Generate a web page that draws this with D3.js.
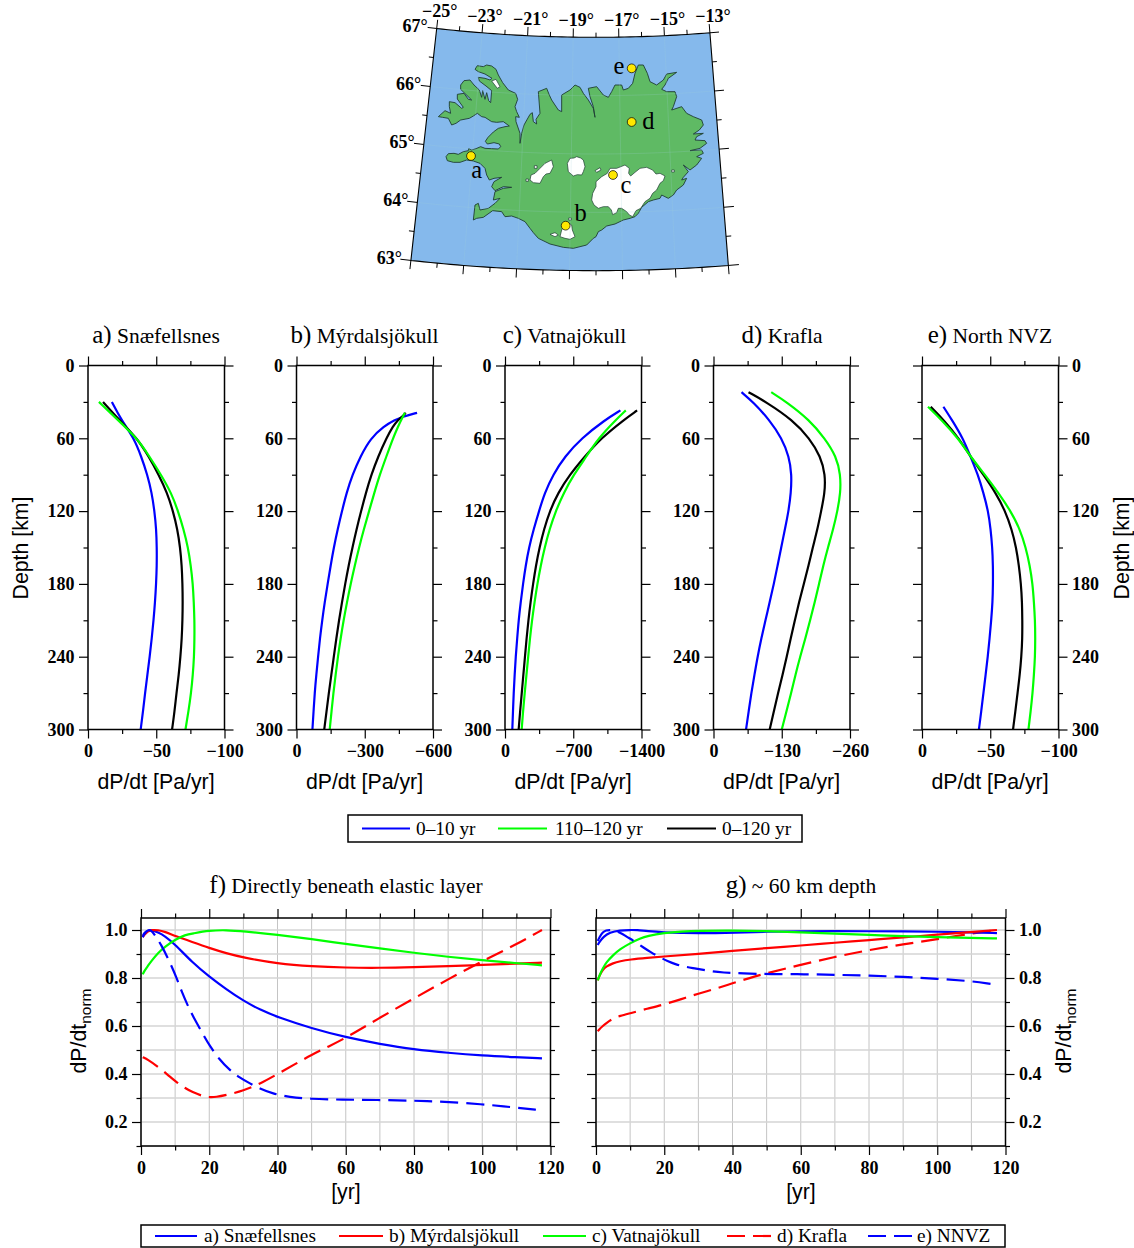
<!DOCTYPE html>
<html lang="en">
<head>
<meta charset="utf-8">
<script src="https://d3js.org/d3.v7.min.js"></script>
<style type="text/css">
body{
  margin: 0;
  background: white;
}
text{
  font-family: "Liberation Serif", serif;
  fill: black;
}
.tick text{
  font-family: "Liberation Serif", serif;
  font-weight: bold;
  font-size: 18px;
  fill: black;
}
.sans{
  font-family: "Liberation Sans", sans-serif;
  font-size: 21.3px;
}
</style>
</head>
<body>
<div id="chart"></div>
<script type="text/javascript">

// profile panels: depth [km] and dP/dt [Pa/yr]
var depthA = [30,45,60,75,90,105,120,135,150,165,180,195,210,225,240,255,270,285,300];
var aBlue  = [-17.5,-24.5,-33.7,-39,-43.5,-46.7,-48.7,-50,-50.4,-50.4,-49.9,-49.1,-48,-46.7,-45.2,-43.5,-41.8,-40.3,-38.6];
var aGreen = [-8,-22,-36,-45,-53.5,-61,-66,-70,-73.3,-75.3,-76.8,-77.5,-78,-78,-77.7,-76.8,-75.5,-73.6,-71.4];
var aBlack = [-11,-23,-36,-44.5,-51.8,-58,-62.3,-65.5,-67.5,-68.7,-69.2,-69.4,-69.2,-68.7,-67.7,-66.5,-64.8,-63.4,-61.6];

var depthB = [39,42,45,50,60,75,90,105,120,135,150,165,180,195,210,225,240,255,270,285,300];
var bBlue  = [-530,-470,-430,-385,-325,-281,-246,-220,-200,-181,-164,-150,-137,-124,-113,-103,-95,-87,-80,-75,-70];
var bGreen = [-476,-468,-460,-447,-424,-395,-366,-342,-319,-296,-275,-256,-238,-222,-207,-194,-182,-172,-162,-154,-146];
var bBlack = [-480,-465,-446,-424,-395,-359,-329,-305,-284,-264,-246,-229,-214,-200,-187,-175,-164,-153,-142,-132,-122];

var depthC = [37,45,60,75,90,105,120,135,150,165,180,195,210,225,240,255,270,285,300];
var cBlue  = [-1184,-1023,-784,-613,-493,-407,-349,-294,-246,-212,-185,-161,-140,-125,-110,-99,-89,-82,-75];
var cGreen = [-1239,-1135,-958,-835,-705,-602,-520,-457,-407,-366,-332,-303,-277,-256,-238,-220,-202,-185,-171];
var cBlack = [-1355,-1215,-985,-818,-664,-544,-459,-400,-354,-317,-288,-262,-240,-221,-205,-188,-172,-155,-140];

var depthD = [22,30,45,60,75,90,105,120,135,150,165,180,195,210,225,240,255,270,285,300];
var dBlue  = [-53.4,-75,-107,-130,-144,-149,-147.5,-143,-136,-129,-122,-115,-107,-99,-91,-84,-78,-72,-67,-62];
var dGreen = [-110,-139,-183,-212,-234,-242,-242,-236,-228,-218,-209,-201,-193,-184,-175,-165,-156,-148,-139,-130];
var dBlack = [-66.7,-100,-151,-183,-204,-213,-212,-205,-198,-189,-181,-172,-163,-155,-147,-139.5,-131.5,-123,-115,-107];

var depthE = [34,45,60,75,90,105,120,135,150,165,180,195,210,225,240,255,270,285,300];
var eBlue  = [-15.7,-22,-30,-35.5,-41,-45,-48.5,-50.3,-51.5,-52,-52,-51.7,-50.7,-49.5,-48.2,-46.6,-45,-43.4,-41.7];
var eGreen = [-4.4,-14.5,-26.5,-35.5,-46,-56,-65,-71.8,-76,-79,-81,-82,-82.8,-83,-82.8,-82,-81,-79.6,-78];
var eBlack = [-6.4,-16,-27,-35.5,-45,-54,-61,-65.7,-69,-71,-72.5,-73.3,-73.5,-73.5,-72.8,-71.6,-70,-68.4,-66.7];

var depthMajor = [0,60,120,180,240,300];
var depthMinor = [30,90,150,210,270];

// f) directly beneath elastic layer
var fTimeA = [0.5,1,2,3,5,7,10,15,20,25,30,35,40,50,60,70,80,90,100,110,117.5];
var fSnae  = [0.975,0.99,0.998,1,0.99,0.975,0.94,0.865,0.806,0.753,0.705,0.667,0.637,0.59,0.553,0.525,0.502,0.488,0.477,0.47,0.465];
var fTimeB = [0.5,1,2,3,5,7,10,15,20,25,30,40,50,60,70,80,90,100,110,117.5];
var fMyrd  = [0.97,0.98,0.995,1,1,0.993,0.975,0.95,0.925,0.903,0.885,0.86,0.848,0.843,0.842,0.845,0.849,0.855,0.86,0.864];
var fTimeC = [0.5,1,2,3,5,7,10,13,15,20,25,30,40,50,60,70,80,90,100,110,117.5];
var fVatn  = [0.815,0.83,0.85,0.87,0.905,0.93,0.96,0.98,0.985,0.998,1,0.995,0.98,0.962,0.942,0.923,0.905,0.888,0.874,0.862,0.853];
var fTimeD = [0.5,2,5,8,10,13,15,18,20,22,25,30,35,40,45,50,55,60,70,80,90,100,110,117.5];
var fKraf  = [0.47,0.46,0.43,0.395,0.37,0.34,0.325,0.308,0.303,0.304,0.312,0.33,0.36,0.4,0.44,0.48,0.515,0.55,0.635,0.715,0.795,0.87,0.94,1];
var fTimeE = [0.5,1,2,3,4,5.9,8.1,10.3,12,13.7,15.6,18.6,20,23,26,28.9,32,34.7,38.6,43.5,49.4,59,69,80,88.5,100,108,117];
var fNnvz  = [0.97,0.985,1,1,0.98,0.94,0.876,0.806,0.74,0.685,0.63,0.555,0.52,0.46,0.416,0.385,0.36,0.34,0.318,0.304,0.296,0.293,0.292,0.289,0.285,0.274,0.263,0.249];

// g) ~60 km depth
var gTimeA = [0.5,1,2.2,4,7,10,12,15,20,25,30,35,40,50,60,70,80,90,100,110,117.5];
var gSnae  = [0.9375,0.95,0.972,0.99,0.999,1,1,0.995,0.99,0.988,0.987,0.987,0.989,0.993,0.995,0.995,0.995,0.994,0.993,0.99,0.987];
var gTimeB = [0.5,1,2,3,5,7,10,15,20,30,40,50,60,70,80,90,100,110,117.5];
var gMyrd  = [0.79,0.81,0.835,0.848,0.862,0.87,0.877,0.884,0.89,0.9,0.913,0.925,0.935,0.947,0.958,0.97,0.98,0.992,1];
var gTimeC = [0.5,1,2,3,5,7,10,13,15,20,25,30,40,50,60,70,80,90,100,110,117.5];
var gVatn  = [0.79,0.81,0.84,0.865,0.895,0.92,0.945,0.965,0.975,0.988,0.994,0.997,0.998,0.996,0.99,0.985,0.98,0.974,0.97,0.967,0.965];
var gTimeD = [0.5,1,2,3,5,7,10,15,20,25,30,35,40,45,50,60,70,80,90,100,110,117.5];
var gKraf  = [0.578,0.587,0.6,0.612,0.632,0.642,0.653,0.672,0.69,0.712,0.735,0.755,0.778,0.8,0.82,0.855,0.888,0.917,0.94,0.962,0.985,1];
var gTimeE = [0.5,1,2,3,4,5,7,9,11.5,14,16,18.3,21,23.5,26,29,34,37,43,51,61,70.5,80,90,100,110,115,117.5];
var gNnvz  = [0.954,0.97,0.992,0.999,1,1,0.99,0.972,0.951,0.926,0.908,0.889,0.87,0.856,0.847,0.84,0.827,0.823,0.819,0.816,0.816,0.813,0.81,0.805,0.797,0.787,0.777,0.772];

var coastRing = [[228,470],[235,461],[252,460],[265,463],[280,455],[295,452],[296,446],[305,450],[318,446],[332,440],[345,445],[365,446],[385,447],[392,440],[388,432],[372,428],[352,432],[346,424],[354,412],[370,396],[385,385],[405,380],[418,378],[400,365],[380,367],[365,365],[345,352],[335,350],[322,340],[310,348],[298,355],[272,360],[258,370],[245,375],[235,355],[218,352],[205,350],[225,332],[242,340],[238,320],[238,305],[255,308],[275,325],[280,322],[262,297],[262,283],[282,280],[295,298],[305,300],[272,268],[272,255],[282,242],[300,240],[312,255],[328,270],[335,292],[338,272],[345,298],[350,278],[356,302],[362,308],[365,272],[348,258],[328,243],[325,232],[345,235],[360,240],[366,235],[345,222],[325,215],[315,208],[322,197],[340,200],[350,195],[365,198],[378,208],[385,225],[398,248],[415,270],[437,280],[443,298],[435,320],[440,335],[448,352],[437,350],[438,365],[450,400],[450,430],[455,400],[462,375],[480,343],[487,338],[490,365],[500,372],[498,358],[510,340],[505,275],[530,265],[538,285],[545,300],[565,330],[575,335],[575,285],[600,270],[615,255],[630,262],[640,280],[655,300],[670,325],[675,352],[670,320],[660,290],[655,265],[680,260],[700,285],[715,292],[725,275],[735,255],[755,255],[760,270],[775,265],[788,250],[795,220],[805,195],[820,195],[832,220],[840,245],[860,255],[880,240],[890,222],[920,217],[895,235],[885,255],[875,268],[890,275],[915,275],[920,290],[910,320],[905,330],[935,320],[950,340],[970,350],[995,360],[1000,375],[988,390],[970,402],[1000,400],[980,410],[975,420],[1005,422],[1010,430],[990,445],[960,452],[995,450],[1000,460],[980,470],[995,475],[980,495],[960,510],[940,495],[955,515],[940,532],[935,540],[950,535],[940,555],[920,570],[910,585],[895,595],[875,585],[870,595],[850,600],[835,605],[815,622],[805,640],[795,650],[780,655],[760,660],[735,672],[710,678],[695,690],[685,695],[678,710],[670,715],[650,735],[610,745],[580,742],[540,732],[505,715],[490,698],[480,685],[465,665],[445,655],[425,648],[405,650],[395,635],[368,632],[340,652],[320,655],[310,660],[315,615],[325,610],[330,630],[355,625],[375,610],[390,595],[370,600],[375,575],[400,565],[425,562],[400,560],[375,572],[365,560],[372,545],[395,532],[372,535],[358,540],[350,525],[345,505],[330,490],[310,483],[290,480],[270,487],[250,487],[232,482]];
var iceVatna = [[665,600],[668,580],[678,560],[678,545],[695,530],[712,520],[720,505],[740,505],[765,495],[778,505],[776,520],[782,528],[795,517],[810,505],[830,502],[848,510],[858,522],[870,520],[885,528],[880,542],[870,550],[860,570],[848,580],[840,595],[825,605],[812,625],[798,632],[788,650],[778,645],[770,635],[755,625],[745,625],[740,638],[728,644],[724,630],[715,620],[700,620],[685,625],[672,615]];
var iceHofs  = [[592,490],[600,475],[612,474],[620,470],[632,474],[640,480],[645,500],[640,515],[635,525],[622,524],[610,528],[595,515]];
var iceLang  = [[483,525],[495,520],[510,505],[525,490],[545,480],[550,500],[540,520],[528,522],[520,530],[510,550],[490,548],[480,540]];
var iceMyrd  = [[570,710],[575,690],[590,665],[605,675],[607,690],[615,710],[600,718],[585,715]];
var iceEyja  = [[540,703],[555,698],[565,705],[555,710]];
var iceTung  = [[675,512],[690,503],[693,510],[680,517]];
var iceDrang = [[365,243],[378,238],[390,260],[382,265]];
var iceSmall = [[[493,497],[501,497],[501,505],[493,505]],[[596,654],[604,654],[604,660],[596,660]],[[905,510],[913,510],[913,516],[905,516]],[[468,537],[475,537],[475,544],[468,544]]];
var siteNames = ["a","b","c","d","e"];
var siteX = [303,587,729,785,785];
var siteY = [468,677,525,366,205];
var siteLabelX = [320,632,768,835,747];
var siteLabelY = [515,645,560,368,205];

var lonLabels = [-25,-23,-21,-19,-17,-15,-13];
var latLabels = [63,64,65,66,67];

var legendTop = ["0\u201310 yr","110\u2013120 yr","0\u2013120 yr"];
var legendBottom = ["a) Sn\u00e6fellsnes","b) M\u00fdrdalsj\u00f6kull","c) Vatnaj\u00f6kull","d) Krafla","e) NNVZ"];

var BLUE = "#0000ff", GREEN = "#00ff00", RED = "#ff0000", BLACK = "#000000";

var svg = d3.select("#chart").append("svg")
  .attr("width", 1134).attr("height", 1248)
  .style("display", "block");

function minusFmt(d){
  return d === 0 ? "0" : "\u2212" + Math.abs(d);
}

function title(x, y, lead, rest){
  var t = svg.append("text").attr("x", x).attr("y", y).attr("text-anchor", "middle");
  t.append("tspan").style("font-size", "25px").text(lead);
  t.append("tspan").style("font-size", "21.5px").text(" " + rest);
}

function cleanAxis(g){
  g.select(".domain").remove();
  g.selectAll(".tick line").attr("stroke", "black").attr("stroke-width", 1.2);
}

// one panel frame, GMT style: long and short ticks on all four sides
function frame(x, y, opts){
  var r = x.range(), q = y.range();
  var g = svg.append("g");
  var l = opts.labelRight;
  [[d3.axisLeft, r[0], opts.yMajor, opts.yMinor, !l],
   [d3.axisRight, r[1], opts.yMajor, opts.yMinor, l]].forEach(function(a){
    g.append("g").attr("transform", "translate(" + a[1] + ",0)")
      .call(a[0](y).tickValues(a[3]).tickSize(4.5).tickFormat("")).call(cleanAxis);
    g.append("g").attr("transform", "translate(" + a[1] + ",0)")
      .call(a[0](y).tickValues(a[2]).tickSize(9).tickPadding(4.5).tickFormat(a[4] ? opts.yFmt : "")).call(cleanAxis);
  });
  [[d3.axisTop, q[0], false],[d3.axisBottom, q[1], true]].forEach(function(a){
    g.append("g").attr("transform", "translate(0," + a[1] + ")")
      .call(a[0](x).tickValues(opts.xMinor).tickSize(4.5).tickFormat("")).call(cleanAxis);
    g.append("g").attr("transform", "translate(0," + a[1] + ")")
      .call(a[0](x).tickValues(opts.xMajor).tickSize(9).tickPadding(6).tickFormat(a[2] ? opts.xFmt : "")).call(cleanAxis);
  });
  g.append("rect").attr("x", r[0]).attr("y", q[0])
    .attr("width", r[1] - r[0]).attr("height", q[1] - q[0])
    .attr("fill", "none").attr("stroke", "black").attr("stroke-width", 1.5);
}

// profile panels a to e
var profilePanels = [
  {left: 88,    titleX: 156,   lead: "a)", name: "Sn\u00e6fellsnes",        max: -100,  depth: depthA, blue: aBlue, green: aGreen, black: aBlack},
  {left: 296.5, titleX: 364.5, lead: "b)", name: "M\u00fdrdalsj\u00f6kull", max: -600,  depth: depthB, blue: bBlue, green: bGreen, black: bBlack},
  {left: 505,   titleX: 564.5, lead: "c)", name: "Vatnaj\u00f6kull",        max: -1400, depth: depthC, blue: cBlue, green: cGreen, black: cBlack},
  {left: 713.5, titleX: 782,   lead: "d)", name: "Krafla",                  max: -260,  depth: depthD, blue: dBlue, green: dGreen, black: dBlack},
  {left: 922,   titleX: 990,   lead: "e)", name: "North NVZ",               max: -100,  depth: depthE, blue: eBlue, green: eGreen, black: eBlack}
];

profilePanels.forEach(function(p, i){
  var x = d3.scaleLinear().domain([0, p.max]).range([p.left, p.left + 136.5]);
  var y = d3.scaleLinear().domain([0, 300]).range([365.5, 729.5]);
  var line = d3.line()
    .x(function(d){ return x(d[0]); })
    .y(function(d){ return y(d[1]); })
    .curve(d3.curveBasis);
  [[p.blue, BLUE], [p.black, BLACK], [p.green, GREEN]].forEach(function(s){
    svg.append("path")
      .datum(s[0].map(function(v, k){ return [v, p.depth[k]]; }))
      .attr("d", line).attr("fill", "none").attr("stroke", s[1]).attr("stroke-width", 2.2);
  });
  frame(x, y, {
    xMajor: [0, p.max / 2, p.max], xMinor: [p.max / 4, 3 * p.max / 4],
    yMajor: depthMajor, yMinor: depthMinor,
    xFmt: minusFmt, yFmt: d3.format("d"), labelRight: i === 4
  });
  title(p.titleX, 343, p.lead, p.name);
  svg.append("text").attr("class", "sans").attr("x", p.left + 68).attr("y", 789)
    .attr("text-anchor", "middle").text("dP/dt [Pa/yr]");
});

[[28, 548], [1129, 548]].forEach(function(c){
  svg.append("text").attr("class", "sans")
    .attr("transform", "translate(" + c[0] + "," + c[1] + ") rotate(-90)")
    .attr("text-anchor", "middle").text("Depth [km]");
});

// legend under profiles
function legendLine(x1, x2, y, color, dash){
  svg.append("line").attr("x1", x1).attr("x2", x2).attr("y1", y).attr("y2", y)
    .attr("stroke", color).attr("stroke-width", 2.2).attr("stroke-dasharray", dash || null);
}
function legendText(x, y, s){
  svg.append("text").attr("x", x).attr("y", y).style("font-size", "19.3px").text(s);
}
svg.append("rect").attr("x", 348).attr("y", 815).attr("width", 454).attr("height", 27)
  .attr("fill", "white").attr("stroke", "black").attr("stroke-width", 1.5);
[[362, 410, 416, BLUE], [498, 547, 555, GREEN], [667, 716, 722, BLACK]].forEach(function(c, i){
  legendLine(c[0], c[1], 828.5, c[3]);
  legendText(c[2], 834.5, legendTop[i]);
});

// time panels f and g
var timeMajor = [0,20,40,60,80,100,120];
var timeMinor = [10,30,50,70,90,110];
var normMajor = [0.2,0.4,0.6,0.8,1.0];
var normMinor = [0.1,0.3,0.5,0.7,0.9];

var timePanels = [
  {left: 141, lead: "f)", name: "Directly beneath elastic layer", labelRight: false, series: [
    [fTimeA, fSnae, BLUE, null], [fTimeB, fMyrd, RED, null], [fTimeC, fVatn, GREEN, null],
    [fTimeD, fKraf, RED, "18 8"], [fTimeE, fNnvz, BLUE, "18 8"]]},
  {left: 596, lead: "g)", name: "~ 60 km depth", labelRight: true, series: [
    [gTimeD, gKraf, RED, "18 8"], [gTimeA, gSnae, BLUE, null], [gTimeB, gMyrd, RED, null],
    [gTimeC, gVatn, GREEN, null], [gTimeE, gNnvz, BLUE, "18 8"]]}
];

timePanels.forEach(function(p){
  var x = d3.scaleLinear().domain([0, 120]).range([p.left, p.left + 409.5]);
  var y = d3.scaleLinear().domain([1.05, 0.1]).range([918, 1146]);
  var grid = svg.append("g");
  grid.selectAll(".v").data(timeMajor.concat(timeMinor)).enter().append("line")
    .attr("x1", x).attr("x2", x).attr("y1", 918).attr("y2", 1146)
    .attr("stroke", "#c4c4c4").attr("stroke-width", 1);
  grid.selectAll(".h").data(normMajor.concat(normMinor)).enter().append("line")
    .attr("x1", p.left).attr("x2", p.left + 409.5).attr("y1", y).attr("y2", y)
    .attr("stroke", "#d4d4d4").attr("stroke-width", 1.5);
  var line = d3.line()
    .x(function(d){ return x(d[0]); })
    .y(function(d){ return y(d[1]); })
    .curve(d3.curveBasis);
  p.series.forEach(function(s){
    svg.append("path")
      .datum(s[0].map(function(t, k){ return [t, s[1][k]]; }))
      .attr("d", line).attr("fill", "none").attr("stroke", s[2]).attr("stroke-width", 2.2)
      .attr("stroke-dasharray", s[3]);
  });
  frame(x, y, {
    xMajor: timeMajor, xMinor: timeMinor, yMajor: normMajor, yMinor: normMinor,
    xFmt: d3.format("d"), yFmt: d3.format(".1f"), labelRight: p.labelRight
  });
  title(p.left + 205, 893, p.lead, p.name);
  svg.append("text").attr("class", "sans").attr("x", p.left + 205).attr("y", 1199)
    .attr("text-anchor", "middle").text("[yr]");
  var tx = p.labelRight ? 1071 : 86;
  var lab = svg.append("text").attr("class", "sans")
    .attr("transform", "translate(" + tx + ",1031) rotate(-90)")
    .attr("text-anchor", "middle");
  lab.append("tspan").text("dP/dt");
  lab.append("tspan").attr("dy", 5).style("font-size", "15.5px").text("norm");
});

// legend under time panels
svg.append("rect").attr("x", 141).attr("y", 1225).attr("width", 864).attr("height", 22)
  .attr("fill", "white").attr("stroke", "black").attr("stroke-width", 1.5);
[[155, 197, 204, BLUE, null], [339, 383, 389, RED, null], [543, 586, 592, GREEN, null],
 [727, 771, 777, RED, "18 8"], [868, 912, 917, BLUE, "18 8"]].forEach(function(c, i){
  legendLine(c[0], c[1], 1236, c[3], c[4]);
  legendText(c[2], 1242, legendBottom[i]);
});

// Iceland map
var projection = d3.geoConicConformal()
  .parallels([65, 65])
  .rotate([18, 0])
  .center([0, 65])
  .scale(3342)
  .translate([596, 154]);

function proj(lon, lat){ return projection([lon, lat]); }

var sheetX = d3.scaleLinear().domain([0, 1140]).range([370, 750]);
var sheetY = d3.scaleLinear().domain([0, 840]).range([0, 280]);
var ringLine = d3.line()
  .x(function(d){ return sheetX(d[0]); })
  .y(function(d){ return sheetY(d[1]); })
  .curve(d3.curveLinearClosed);

var edge = [];
d3.range(-25, -12.9, 0.25).forEach(function(l){ edge.push(proj(l, 67)); });
d3.range(67, 62.9, -0.25).forEach(function(l){ edge.push(proj(-13, l)); });
d3.range(-13, -25.1, -0.25).forEach(function(l){ edge.push(proj(l, 63)); });
d3.range(63, 67.1, 0.25).forEach(function(l){ edge.push(proj(-25, l)); });
var edgeLine = d3.line().curve(d3.curveLinearClosed);

svg.append("path").attr("d", edgeLine(edge)).attr("fill", "#85b9ec");

svg.append("path").datum(coastRing).attr("d", ringLine)
  .attr("fill", "#5fba64").attr("stroke", "#1f3d33").attr("stroke-width", 0.9)
  .attr("stroke-linejoin", "round");

[iceVatna, iceHofs, iceLang, iceMyrd, iceEyja, iceTung, iceDrang].concat(iceSmall).forEach(function(r){
  svg.append("path").datum(r).attr("d", ringLine)
    .attr("fill", "white").attr("stroke", "#1f3d33").attr("stroke-width", 0.7)
    .attr("stroke-linejoin", "round");
});

// faint graticule
var faint = d3.line();
lonLabels.forEach(function(lon){
  svg.append("path").attr("d", faint(d3.range(63, 67.1, 0.25).map(function(l){ return proj(lon, l); })))
    .attr("fill", "none").attr("stroke", "#9fd0d8").attr("stroke-width", 0.6).attr("stroke-opacity", 0.35);
});
latLabels.forEach(function(lat){
  svg.append("path").attr("d", faint(d3.range(-25, -12.9, 0.25).map(function(l){ return proj(l, lat); })))
    .attr("fill", "none").attr("stroke", "#9fd0d8").attr("stroke-width", 0.6).attr("stroke-opacity", 0.35);
});

svg.append("path").attr("d", edgeLine(edge)).attr("fill", "none")
  .attr("stroke", "black").attr("stroke-width", 1.1);

// map ticks follow the graticule
function mapTick(a, b){
  svg.append("line").attr("x1", a[0]).attr("y1", a[1]).attr("x2", b[0]).attr("y2", b[1])
    .attr("stroke", "black").attr("stroke-width", 1);
}
d3.range(-25, -12.5, 1).forEach(function(lon){
  var len = (lon % 2 !== 0) ? 0.15 : 0.08;
  mapTick(proj(lon, 67), proj(lon, 67 + len));
  mapTick(proj(lon, 63), proj(lon, 63 - len));
});
d3.range(63, 67.1, 0.5).forEach(function(lat){
  var len = (lat % 1 === 0) ? 0.4 : 0.2;
  mapTick(proj(-25, lat), proj(-25 - len, lat));
  mapTick(proj(-13, lat), proj(-13 + len, lat));
});

lonLabels.forEach(function(lon){
  var p = proj(lon, 67);
  svg.append("text").attr("x", p[0] + 3).attr("y", p[1] - 11)
    .attr("text-anchor", "middle").style("font-size", "18px").style("font-weight", "bold")
    .text("\u2212" + Math.abs(lon) + "\u00b0");
});
latLabels.forEach(function(lat){
  var p = proj(-25, lat);
  svg.append("text").attr("x", p[0] - 9).attr("y", p[1] + 4)
    .attr("text-anchor", "end").style("font-size", "18px").style("font-weight", "bold")
    .text(lat + "\u00b0");
});

siteNames.forEach(function(s, i){
  svg.append("circle").attr("cx", sheetX(siteX[i])).attr("cy", sheetY(siteY[i])).attr("r", 4.4)
    .attr("fill", "#ffe800").attr("stroke", "black").attr("stroke-width", 0.7);
  svg.append("text").attr("x", sheetX(siteLabelX[i])).attr("y", sheetY(siteLabelY[i]) + 6)
    .attr("text-anchor", "middle").style("font-size", "24.5px").text(s);
});

</script>
</body>
</html>
